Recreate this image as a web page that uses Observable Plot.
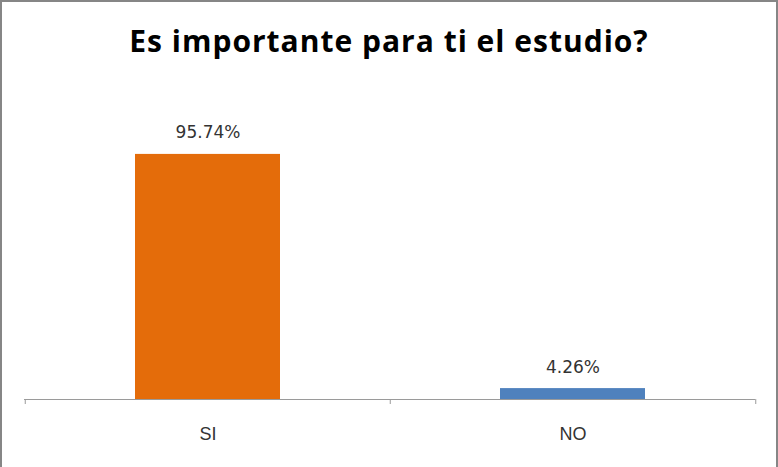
<!DOCTYPE html>
<html>
<head>
<meta charset="utf-8">
<script src="https://cdn.jsdelivr.net/npm/d3@7"></script>
<script src="https://cdn.jsdelivr.net/npm/@observablehq/plot@0.6"></script>
<style>
  html, body { margin: 0; padding: 0; background: #fff; overflow: hidden; }
  #page { position: relative; width: 778px; height: 467px; background: #fff; }
  #frame { position: absolute; left: 0; top: 0; width: 778px; height: 480px; box-sizing: border-box;
           border: 2px solid #868686; pointer-events: none; }
  #title { position: absolute; left: 0; top: 0; width: 778px; height: 90px; text-align: center;
           font-family: "Open Sans", sans-serif; font-weight: bold; font-size: 30px; line-height: 30px;
           letter-spacing: 1px; color: #000; }
  #title span { position: absolute; left: 0; width: 100%; top: 26px; white-space: nowrap; }
  #chart { position: absolute; left: 0; top: 90px; }
</style>
</head>
<body>
<div id="page">
  <div id="title"><span>Es importante para ti el estudio?</span></div>
  <div id="chart"></div>
  <div id="frame"></div>
</div>
<script>
const categories = ["SI", "NO"];
const values = [95.74, 4.26];
const valueLabels = ["95.74%", "4.26%"];
const colors = ["#E46C0A", "#4F81BD"];

const data = categories.map((c, i) => ({cat: c, value: values[i], label: valueLabels[i], color: colors[i]}));

const W = 778, H = 377, mL = 24, mR = 23;
const step = (W - mL - mR) / categories.length;

const chart = Plot.plot({
  width: W,
  height: H,
  marginTop: 53,
  marginBottom: 68,
  marginLeft: mL,
  marginRight: mR,
  x: {domain: categories, paddingInner: 0.603, paddingOuter: 0.3016, label: null},
  y: {domain: [0, 100], axis: null},
  style: {background: "transparent"},
  marks: [
    Plot.barY(data, {x: "cat", y: "value", fill: "color"}),
    Plot.ruleY([0], {stroke: "#9a9a9a", strokeWidth: 1}),
    Plot.ruleX(categories, {x: d => d, dx: -step / 2, y1: 0, y2: 0, insetBottom: -5, stroke: "#9a9a9a"}),
    Plot.ruleX(categories.slice(-1), {x: d => d, dx: step / 2, y1: 0, y2: 0, insetBottom: -5, stroke: "#9a9a9a"}),
    Plot.text(data, {x: "cat", y: "value", text: "label", dy: -16, lineAnchor: "bottom",
      fontFamily: "DejaVu Sans", fontSize: 17, fill: "#333"}),
    Plot.axisX({tickSize: 0, tickPadding: 28, fontSize: 18, fontFamily: "Liberation Sans", color: "#333", label: null})
  ]
});
document.getElementById("chart").appendChild(chart);
</script>
</body>
</html>
